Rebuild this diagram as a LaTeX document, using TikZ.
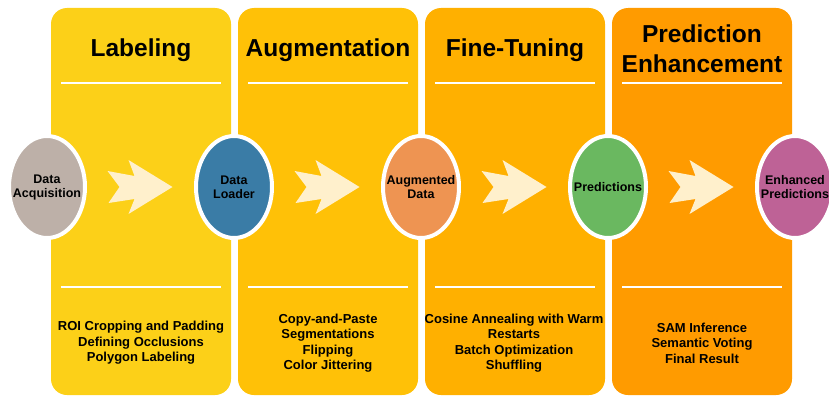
\documentclass[tikz,border=0pt]{standalone}
\usepackage{fontspec}
\setmainfont{Liberation Sans}
\usetikzlibrary{shapes.geometric,calc}

\definecolor{labelcol}{RGB}{252,208,24}
\definecolor{augcol}{RGB}{255,193,7}
\definecolor{tunecol}{RGB}{255,176,0}
\definecolor{enhcol}{RGB}{255,155,0}
\definecolor{arrowcol}{RGB}{255,240,204}
\definecolor{acqcol}{RGB}{189,176,168}
\definecolor{loadcol}{RGB}{58,124,166}
\definecolor{augdatacol}{RGB}{238,148,82}
\definecolor{predcol}{RGB}{106,184,96}
\definecolor{enhpredcol}{RGB}{190,98,150}

% fat notched arrow between two stages
\newcommand{\stagearrow}[1]{%
  \fill[color=arrowcol,shift={(#1)}] (-33,-16) -- (-6,-11) -- (-12,-27) -- (32,0)
    -- (-12,27) -- (-6,12) -- (-32,16) -- (-21,0) -- cycle;}

\begin{document}
\begin{tikzpicture}[%
      x=1pt, y=-1pt,
      stage/.style={ellipse, draw=white, line width=4pt, minimum width=76pt,
        minimum height=102pt, inner sep=0pt},
      stagetext/.style={align=center, inner sep=0pt,
        font=\fontsize{12.5}{14}\selectfont\bfseries},
      title/.style={align=center, font=\fontsize{24.5}{30}\selectfont\bfseries},
      steps/.style={align=center, font=\fontsize{13}{15.5}\selectfont\bfseries},
      sepline/.style={color=white, line width=1.6pt},
      ]
      \useasboundingbox (0,0) rectangle (829,396);

      % the four phases
      \fill[labelcol, rounded corners=16pt] (51,8) rectangle (231,395);
      \fill[augcol, rounded corners=16pt] (238,8) rectangle (418,395);
      \fill[tunecol, rounded corners=16pt] (425,8) rectangle (605,395);
      \fill[enhcol, rounded corners=16pt] (612,8) rectangle (792,395);

      \draw[sepline] (61,83) -- (221,83);
      \draw[sepline] (248,83) -- (408,83);
      \draw[sepline] (435,83) -- (595,83);
      \draw[sepline] (622,83) -- (782,83);
      \draw[sepline] (61,287) -- (221,287);
      \draw[sepline] (248,287) -- (408,287);
      \draw[sepline] (435,287) -- (595,287);
      \draw[sepline] (622,287) -- (782,287);

      \node[title] (labeling) at (141,50) {Labeling};
      \node[title] (augmentation) at (328,50) {Augmentation};
      \node[title] (finetuning) at (515,50) {Fine-Tuning};
      \node[title] (enhancement) at (702,49) {Prediction\\Enhancement};

      % data flowing through the pipeline
      \node[stage, fill=acqcol] (acq) at (47,187) {};
      \node[stage, fill=loadcol] (loader) at (234,187) {};
      \node[stage, fill=augdatacol] (augdata) at (421,187) {};
      \node[stage, fill=predcol] (pred) at (608,187) {};
      \node[stage, fill=enhpredcol] (enhpred) at (795,187) {};

      \node[stagetext] (acqtext) at (acq) {Data\\Acquisition};
      \node[stagetext] (loadertext) at (loader) {Data\\Loader};
      \node[stagetext] (augdatatext) at (augdata) {Augmented\\Data};
      \node[stagetext] (predtext) at (pred) {Predictions};
      \node[stagetext] (enhpredtext) at (enhpred) {Enhanced\\Predictions};

      \stagearrow{$(acq)!0.5!(loader)$}
      \stagearrow{$(loader)!0.5!(augdata)$}
      \stagearrow{$(augdata)!0.5!(pred)$}
      \stagearrow{$(pred)!0.5!(enhpred)$}

      \node[steps] (labelsteps) at (141,343) {ROI Cropping and Padding\\Defining Occlusions\\Polygon Labeling};
      \node[steps] (augsteps) at (328,343) {Copy-and-Paste\\Segmentations\\Flipping\\Color Jittering};
      \node[steps] (tunesteps) at (514,343) {Cosine Annealing with Warm\\Restarts\\Batch Optimization\\Shuffling};
      \node[steps] (enhsteps) at (702,343) {SAM Inference\\Semantic Voting\\Final Result};
\end{tikzpicture}
\end{document}
